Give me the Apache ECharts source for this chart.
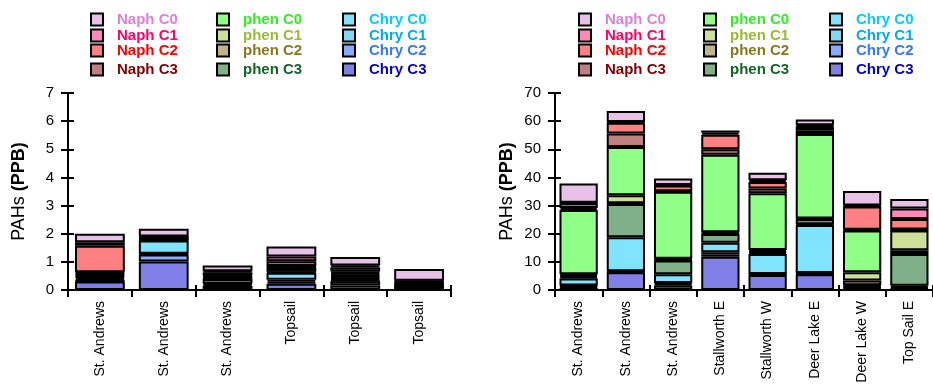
<!DOCTYPE html>
<html><head><meta charset="utf-8">
<script src="https://cdn.jsdelivr.net/npm/echarts@6/dist/echarts.min.js"></script>
<style>html,body{margin:0;padding:0;background:#fff}#c{width:933px;height:389px}</style>
</head><body><div id="c"></div>
<script>
// ---- data ----
const leftCategories = ['St. Andrews','St. Andrews','St. Andrews','Topsail','Topsail','Topsail'];
const rightCategories = ['St. Andrews','St. Andrews','St. Andrews','Stallworth E','Stallworth W','Deer Lake E','Deer Lake W','Top Sail E'];
const seriesNames = ['Chry C3','Chry C2','Chry C1','Chry C0','phen C3','phen C2','phen C1','phen C0','Naph C3','Naph C2','Naph C1','Naph C0'];
const legendOrder = [['Naph C0','Naph C1','Naph C2','Naph C3'],['phen C0','phen C1','phen C2','phen C3'],['Chry C0','Chry C1','Chry C2','Chry C3']];
const leftTicks = {min:0, max:7, interval:1};
const rightTicks = {min:0, max:70, interval:10};

// left chart values (stack order bottom to top)
const leftChryC3 = [0.30, 1.01, 0.14, 0.22, 0.16, 0.03];
const leftChryC2 = [0.03, 0.25, 0.05, 0.07, 0.15, 0.02];
const leftChryC1 = [0.03, 0.03, 0.04, 0.07, 0.04, 0.02];
const leftChryC0 = [0.07, 0.47, 0.16, 0.25, 0.05, 0.02];
const leftPhenC3 = [0.04, 0.02, 0.03, 0.04, 0.05, 0.02];
const leftPhenC2 = [0.04, 0.02, 0.02, 0.14, 0.05, 0.02];
const leftPhenC1 = [0.04, 0.02, 0.02, 0.02, 0.05, 0.02];
const leftPhenC0 = [0.04, 0.02, 0.03, 0.02, 0.05, 0.02];
const leftNaphC3 = [0.04, 0.02, 0.03, 0.02, 0.06, 0.02];
const leftNaphC2 = [0.94, 0.02, 0.10, 0.17, 0.15, 0.11];
const leftNaphC1 = [0.13, 0.02, 0.05, 0.17, 0.06, 0.03];
const leftNaphC0 = [0.30, 0.28, 0.20, 0.36, 0.30, 0.42];

// right chart values
const rightChryC3 = [0.8, 6.3, 1.6, 11.8, 5.3, 5.6, 0.4, 0.3];
const rightChryC2 = [0.5, 0.2, 0.5, 0.8, 0.2, 0.2, 0.3, 0.3];
const rightChryC1 = [0.3, 0.2, 0.4, 0.8, 0.2, 0.2, 0.3, 0.4];
const rightChryC0 = [2.5, 12.0, 3.1, 3.4, 7.1, 17.1, 0.3, 0.5];
const rightPhenC3 = [0.5, 11.9, 4.9, 3.1, 0.5, 0.3, 0.4, 11.3];
const rightPhenC2 = [0.5, 0.2, 0.3, 0.3, 0.4, 1.7, 1.7, 1.3];
const rightPhenC1 = [0.5, 2.9, 0.3, 0.3, 0.5, 0.3, 2.9, 7.0];
const rightPhenC0 = [22.8, 17.1, 23.8, 27.6, 20.2, 30.0, 14.8, 0.2];
const rightNaphC3 = [0.7, 4.8, 0.2, 1.9, 1.7, 1.4, 0.3, 0.2];
const rightNaphC2 = [1.7, 3.8, 2.0, 5.2, 2.3, 1.3, 8.3, 3.7];
const rightNaphC1 = [0.2, 0.3, 0.2, 0.7, 0.6, 0.4, 0.3, 3.8];
const rightNaphC0 = [6.8, 3.9, 2.3, 0.8, 2.7, 2.1, 5.2, 3.3];

const leftValues = [leftChryC3,leftChryC2,leftChryC1,leftChryC0,leftPhenC3,leftPhenC2,leftPhenC1,leftPhenC0,leftNaphC3,leftNaphC2,leftNaphC1,leftNaphC0];
const rightValues = [rightChryC3,rightChryC2,rightChryC1,rightChryC0,rightPhenC3,rightPhenC2,rightPhenC1,rightPhenC0,rightNaphC3,rightNaphC2,rightNaphC1,rightNaphC0];

// ---- styles ----
const fillColors = {
  'Naph C0':'#e8c0e8','Naph C1':'#ff88bb','Naph C2':'#ff8080','Naph C3':'#c08080',
  'phen C0':'#90ff88','phen C1':'#cce09a','phen C2':'#c0b488','phen C3':'#80b088',
  'Chry C0':'#80e4ff','Chry C1':'#80d8f4','Chry C2':'#88aaff','Chry C3':'#8080e8'
};
const textColors = {
  'Naph C0':'#dd80d8','Naph C1':'#ff0066','Naph C2':'#ff0000','Naph C3':'#800000',
  'phen C0':'#33ee22','phen C1':'#99bb33','phen C2':'#887722','phen C3':'#116622',
  'Chry C0':'#00ccff','Chry C1':'#00aaee','Chry C2':'#3377ff','Chry C3':'#0000cc'
};
const FONT = 'Liberation Sans, Arial, Helvetica, sans-serif';

const grids = [
  {left:68, top:93, width:383, height:197},
  {left:555, top:93, width:385, height:197}
];

function xAxes(gi, cats){
  const base = {type:'category', gridIndex:gi, data:cats, position:'bottom'};
  return [
    Object.assign({}, base, {
      axisLine:{lineStyle:{color:'#000', width:2}},
      axisTick:{show:true, length:7, inside:false, lineStyle:{color:'#000', width:2}},
      axisLabel:{rotate:90, color:'#000', fontSize:14, fontFamily:FONT, margin:11, interval:0}
    }),
    Object.assign({}, base, {
      axisLine:{show:false},
      axisTick:{show:true, length:5, inside:true, lineStyle:{color:'#000', width:2}},
      axisLabel:{show:false}
    })
  ];
}
function yAxes(gi, t, gap){
  const base = {type:'value', gridIndex:gi, min:t.min, max:t.max, interval:t.interval, position:'left', splitLine:{show:false}};
  return [
    Object.assign({}, base, {
      axisLine:{show:true, lineStyle:{color:'#000', width:2}},
      axisTick:{show:true, length:7, inside:false, lineStyle:{color:'#000', width:2}},
      axisLabel:{color:'#000', fontSize:15, fontFamily:FONT, margin:14},
      name:'PAHs {b|(PPB)}', nameLocation:'middle', nameGap:gap, nameRotate:90,
      nameTextStyle:{fontSize:18, color:'#000', fontFamily:FONT, rich:{b:{fontSize:18, fontWeight:'bold', fontFamily:FONT, color:'#000'}}}
    }),
    Object.assign({}, base, {
      axisLine:{show:false},
      axisTick:{show:true, length:6, inside:true, lineStyle:{color:'#000', width:2}},
      axisLabel:{show:false}
    })
  ];
}

const xAxis = [...xAxes(0, leftCategories), ...xAxes(1, rightCategories)];
const yAxis = [...yAxes(0, leftTicks, 40), ...yAxes(1, rightTicks, 39)];

const series = [];
seriesNames.forEach((n, i) => {
  series.push({type:'bar', name:n, stack:'L', xAxisIndex:0, yAxisIndex:0, data:leftValues[i],
    barCategoryGap:'22%', itemStyle:{color:fillColors[n], borderColor:'#000', borderWidth:2}});
  series.push({type:'bar', name:n, stack:'R', xAxisIndex:2, yAxisIndex:2, data:rightValues[i],
    barCategoryGap:'19%', itemStyle:{color:fillColors[n], borderColor:'#000', borderWidth:2}});
});

// legends: one per item to place the 3x4 blocks
const legendCols = [[90, 216, 342], [578, 703, 829]];
const legendRows = [12, 28, 43, 62];
const legend = [];
legendCols.forEach(cols => {
  legendOrder.forEach((col, ci) => {
    col.forEach((n, ri) => {
      legend.push({
        data:[{name:n, textStyle:{color:textColors[n]}}],
        left:cols[ci], top:legendRows[ri], orient:'vertical', padding:0,
        icon:'rect', itemWidth:12, itemHeight:12, selectedMode:false,
        itemStyle:{color:fillColors[n], borderColor:'#000', borderWidth:2},
        textStyle:{fontSize:15, fontWeight:'bold', fontFamily:FONT, padding:[0,0,0,9]}
      });
    });
  });
});

const chart = echarts.init(document.getElementById('c'), null, {renderer:'canvas'});
chart.setOption({animation:false, backgroundColor:'#fff', grid:grids, xAxis, yAxis, series, legend});
</script></body></html>
